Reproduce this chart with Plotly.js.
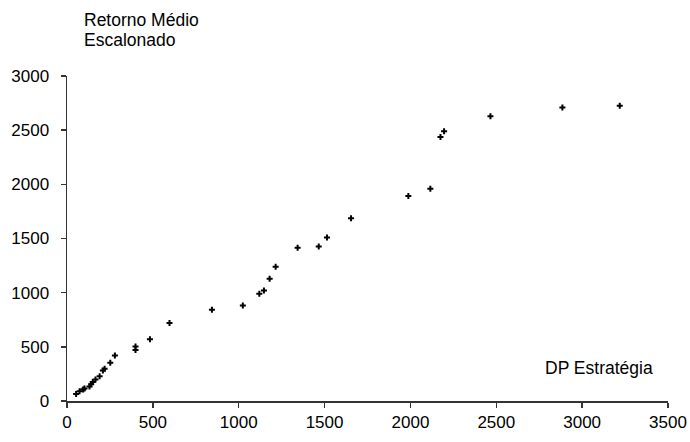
<!DOCTYPE html>
<html>
<head>
<meta charset="utf-8">
<script src="https://cdn.plot.ly/plotly-3.0.1.min.js"></script>
<style>html,body{margin:0;padding:0;background:#fff;}#chart{width:690px;height:442px;}</style>
</head>
<body>
<div id="chart"></div>
<script>
var dpEstrategia = [53,73,94,102,131,141,150,166,190,209,219,252,279,399,399,483,597,844,1024,1120,1147,1180,1215,1343,1466,1514,1654,1988,2116,2175,2196,2466,2885,3219];
var retornoMedio = [65,90,107,115,134,155,175,198,228,282,297,353,420,503,470,570,719,842,882,990,1021,1128,1239,1415,1427,1510,1686,1892,1960,2436,2489,2628,2710,2726];
var xTicks = [0,500,1000,1500,2000,2500,3000,3500];
var yTicks = [0,500,1000,1500,2000,2500,3000];

var fontFam = 'Liberation Sans, Arial, sans-serif';
var trace = {
  x: dpEstrategia,
  y: retornoMedio,
  type: 'scatter',
  mode: 'markers',
  marker: {symbol: 'cross', size: 5, color: '#000'},
  hoverinfo: 'x+y'
};
var axisCommon = {
  showline: true, linecolor: '#333', linewidth: 1.5,
  ticks: 'outside', ticklen: 5, tickcolor: '#333', tickwidth: 1.5,
  showgrid: false, zeroline: false,
  tickfont: {family: fontFam, size: 17, color: '#000'},
  fixedrange: true
};
var layout = {
  width: 690, height: 442,
  margin: {l: 67, r: 22, t: 76, b: 41},
  paper_bgcolor: '#fff', plot_bgcolor: '#fff',
  showlegend: false,
  font: {family: fontFam, size: 17, color: '#000'},
  xaxis: Object.assign({}, axisCommon, {range: [0, 3500], tickmode: 'array', tickvals: xTicks, ticktext: xTicks.map(String)}),
  yaxis: Object.assign({}, axisCommon, {range: [0, 3000], tickmode: 'array', tickvals: yTicks, ticktext: yTicks.map(String), ticklabelstandoff: 8}),
  annotations: [
    {text: 'Retorno Médio', xref: 'paper', yref: 'paper', x: (82 - 67) / 601, y: 1 + (76 - 19.5) / 325, xanchor: 'left', yanchor: 'middle', showarrow: false, font: {family: fontFam, size: 17.5, color: '#000'}},
    {text: 'Escalonado', xref: 'paper', yref: 'paper', x: (82 - 67) / 601, y: 1 + (76 - 40) / 325, xanchor: 'left', yanchor: 'middle', showarrow: false, font: {family: fontFam, size: 17.5, color: '#000'}},
    {text: 'DP Estratégia', xref: 'paper', yref: 'paper', x: (655 - 67) / 601, y: (401 - 368) / 325, xanchor: 'right', yanchor: 'middle', showarrow: false, font: {family: fontFam, size: 17.5, color: '#000'}}
  ]
};
Plotly.newPlot('chart', [trace], layout, {displayModeBar: false, staticPlot: true});
</script>
</body>
</html>
